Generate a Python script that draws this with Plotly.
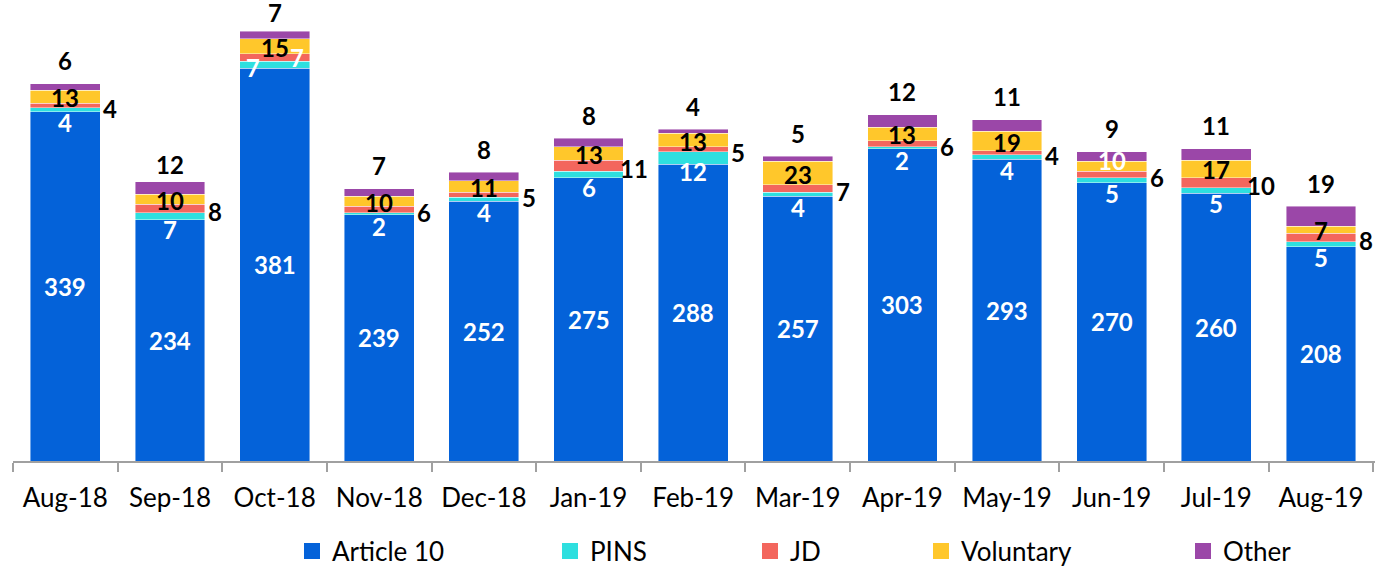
import plotly.graph_objects as go

categories = ["Aug-18", "Sep-18", "Oct-18", "Nov-18", "Dec-18", "Jan-19", "Feb-19",
              "Mar-19", "Apr-19", "May-19", "Jun-19", "Jul-19", "Aug-19"]
article10 = [339, 234, 381, 239, 252, 275, 288, 257, 303, 293, 270, 260, 208]
pins = [4, 7, 7, 2, 4, 6, 12, 4, 2, 4, 5, 5, 5]
jd = [4, 8, 7, 6, 5, 11, 5, 7, 6, 4, 6, 10, 8]
voluntary = [13, 10, 15, 10, 11, 13, 13, 23, 13, 19, 10, 17, 7]
other = [6, 12, 7, 7, 8, 8, 4, 5, 12, 11, 9, 11, 19]

series_names = ["Article 10", "PINS", "JD", "Voluntary", "Other"]
series_values = [article10, pins, jd, voluntary, other]
colors = ["#0462D9", "#2EDFDF", "#F3665D", "#FFC72B", "#9B47A8"]

FONT = "Lato"
W, H = 1377, 568
ML, MR, MT, MB = 13, 2, 0, 107
plot_h = H - MT - MB
YMAX = plot_h / 1.0304

fig = go.Figure()
for name, vals, col in zip(series_names, series_values, colors):
    fig.add_trace(go.Bar(
        x=categories, y=vals, name=name, marker_color=col,
        marker_line=dict(width=0.8, color="rgba(255,255,255,0.55)"),
        showlegend=False, hoverinfo="x+y+name",
    ))

# label style rules (per series) and a few special-cased labels
label_rules = {
    "Article 10": dict(color="white", xshift=0, yshift=0, where="center"),
    "PINS": dict(color="white", xshift=0, yshift=-13, where="center"),
    "JD": dict(color="black", xshift=45, yshift=-3, where="center"),
    "Voluntary": dict(color="black", xshift=0, yshift=-1, where="center"),
    "Other": dict(color="black", xshift=0, yshift=23, where="top"),
}
overrides = {
    ("PINS", "Oct-18"): dict(xshift=-22, yshift=-3),
    ("JD", "Oct-18"): dict(color="white", xshift=22, yshift=0),
    ("Other", "Oct-18"): dict(yshift=19),
    ("Other", "Sep-18"): dict(yshift=17),
    ("Voluntary", "Jun-19"): dict(color="white", yshift=6),
}

annotations = []
for i, cat in enumerate(categories):
    base = 0
    for name, vals in zip(series_names, series_values):
        v = vals[i]
        rule = dict(label_rules[name])
        rule.update(overrides.get((name, cat), {}))
        y = base + v / 2 if rule["where"] == "center" else base + v
        annotations.append(dict(
            x=cat, y=y, xref="x", yref="y", text=str(v), showarrow=False,
            xanchor="center", yanchor="middle",
            xshift=rule["xshift"], yshift=rule["yshift"],
            font=dict(family=FONT, size=24, color=rule["color"], weight="bold"),
        ))
        base += v

# legend: one legend per entry so each can sit where the original puts it
legend_left_px = [304, 562, 762, 933, 1195]
legends = {}
for k, (name, col, px) in enumerate(zip(series_names, colors, legend_left_px)):
    lname = "legend" if k == 0 else f"legend{k+1}"
    fig.add_trace(go.Scatter(
        x=[None], y=[None], mode="markers", name=name,
        marker=dict(symbol="square", size=16, color=col),
        legend=lname, showlegend=True, hoverinfo="skip",
    ))
    legends[lname] = dict(
        xref="container", yref="container",
        x=(px - 12) / W, xanchor="left",
        y=(H - 551) / H, yanchor="middle",
        orientation="h", bgcolor="rgba(0,0,0,0)", borderwidth=0,
        font=dict(family=FONT, size=26, color="black"),
        itemwidth=30, tracegroupgap=0,
    )

fig.update_layout(
    barmode="stack", bargap=0.333,
    width=W, height=H,
    margin=dict(l=ML, r=MR, t=MT, b=MB, pad=0, autoexpand=False),
    paper_bgcolor="white", plot_bgcolor="white",
    font=dict(family=FONT, color="black"),
    annotations=annotations,
    xaxis=dict(
        type="category", showline=True, linecolor="#A0A0A0", linewidth=1.5,
        ticks="outside", ticklen=9, tickcolor="#A0A0A0", tickwidth=1.5,
        tickson="boundaries", showgrid=False, zeroline=False, automargin=False,
        ticklabelstandoff=13,
        tickfont=dict(family=FONT, size=26, color="black"),
    ),
    yaxis=dict(range=[0, YMAX], visible=False, showgrid=False, zeroline=False,
               automargin=False),
    **legends,
)

fig.write_html(
    "out.html",
    config={"displayModeBar": False},
    post_script="document.body.style.margin='0px';document.body.style.overflow='hidden';",
)
